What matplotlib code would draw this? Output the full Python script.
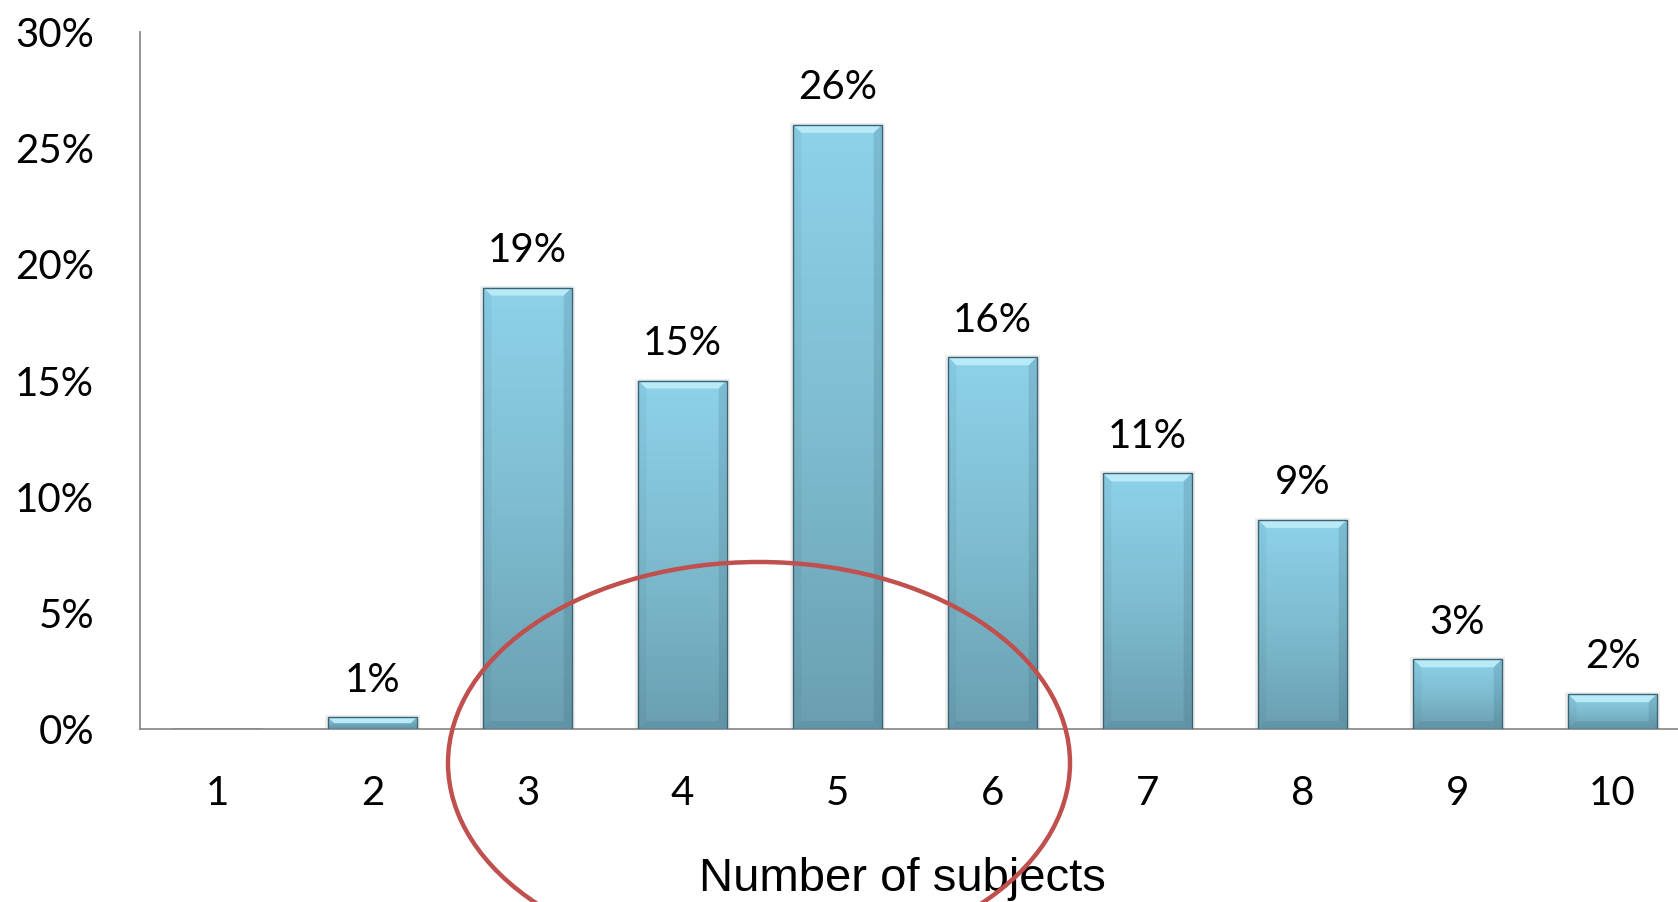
import numpy as np
import matplotlib
matplotlib.use('Agg')
import matplotlib.pyplot as plt
import matplotlib.patches as mpatches
from matplotlib.colors import LinearSegmentedColormap

# chart data
categories = [1, 2, 3, 4, 5, 6, 7, 8, 9, 10]
values = [0, 0.5, 19, 15, 26, 16, 11, 9, 3, 1.5]
value_labels = ['', '1%', '19%', '15%', '26%', '16%', '11%', '9%', '3%', '2%']
y_ticks = [0, 5, 10, 15, 20, 25, 30]
y_ticklabels = ['0%', '5%', '10%', '15%', '20%', '25%', '30%']
x_title = 'Number of subjects'

W, H = 1678, 902
fig = plt.figure(figsize=(W / 100, H / 100), dpi=100)
ax = fig.add_axes([140 / W, 1 - 729 / H, 1538 / W, 697 / H])

bar_w = 0.57
bars = ax.bar(categories, values, width=bar_w, color='none',
              edgecolor='#3b6374', linewidth=1.0, zorder=3)

grad = LinearSegmentedColormap.from_list('bar', ['#8dd2ea', '#7fbcd0', '#6a9fb1'])
gimg = np.linspace(0, 1, 256).reshape(-1, 1)

px_y = 30 / 697.0
px_x = 1 / 155.0
for b in bars:
    h = b.get_height()
    if h <= 0:
        continue
    x0 = b.get_x()
    x1 = x0 + b.get_width()
    # soft shadow
    sh = mpatches.Rectangle((x0 - 3 * px_x, -2 * px_y), b.get_width() + 6 * px_x, h + 4 * px_y,
                            facecolor='#000000', alpha=0.07, edgecolor='none', zorder=2)
    ax.add_patch(sh)
    im = ax.imshow(gimg, cmap=grad, extent=[x0, x1, 0, h], aspect='auto',
                   origin='upper', zorder=2.5, interpolation='bilinear')
    im.set_clip_path(b)
    # bevel
    d = min(8, h / px_y / 2)
    dy = d * px_y
    dx = d * px_x
    top = mpatches.Polygon([(x0, h), (x1, h), (x1 - dx, h - dy), (x0 + dx, h - dy)],
                           closed=True, facecolor='#b8eaf8', edgecolor='none', zorder=2.7)
    ax.add_patch(top)
    right = mpatches.Polygon([(x1, h), (x1, 0), (x1 - dx, dy), (x1 - dx, h - dy)],
                             closed=True, facecolor='#2f5a6a', alpha=0.18, edgecolor='none', zorder=2.7)
    ax.add_patch(right)
    left = mpatches.Polygon([(x0, h), (x0, 0), (x0 + dx, dy), (x0 + dx, h - dy)],
                            closed=True, facecolor='#2f5a6a', alpha=0.07, edgecolor='none', zorder=2.7)
    ax.add_patch(left)
    bottom = mpatches.Polygon([(x0, 0), (x1, 0), (x1 - dx, dy), (x0 + dx, dy)],
                              closed=True, facecolor='#2f5a6a', alpha=0.15, edgecolor='none', zorder=2.7)
    ax.add_patch(bottom)

for x, v, lab in zip(categories, values, value_labels):
    if lab:
        ax.annotate(lab, (x, v), xytext=(0, 18.5), textcoords='offset points',
                    ha='center', va='baseline', fontsize=29, family='Lato', color='#000000')

ax.set_xlim(0.5, 0.5 + 1538 / 155.0)
ax.set_ylim(0, 30)
ax.set_yticks(y_ticks)
ax.set_yticklabels(y_ticklabels, family='Lato', fontsize=29)
ax.set_xticks(categories)
ax.set_xticklabels([str(c) for c in categories], family='Lato', fontsize=29)
ax.tick_params(axis='y', length=0, pad=33)
ax.tick_params(axis='x', length=0, pad=33)

for s in ['top', 'right']:
    ax.spines[s].set_visible(False)
for s in ['left', 'bottom']:
    ax.spines[s].set_color('#8c8c8c')
    ax.spines[s].set_linewidth(1.3)
    ax.spines[s].set_zorder(2)

fig.text(902 / W, 1 - 879 / H, x_title, ha='center', va='center',
         fontsize=34, family='Liberation Sans')

# red ellipse highlighting 3-6 subjects
ell = mpatches.Ellipse((759 / W, 1 - 763 / H), 622 / W, 402 / H, transform=fig.transFigure,
                       facecolor='none', edgecolor='#c0504d', linewidth=3.2, zorder=10)
fig.patches.append(ell)

fig.savefig('out.png', dpi=100)
